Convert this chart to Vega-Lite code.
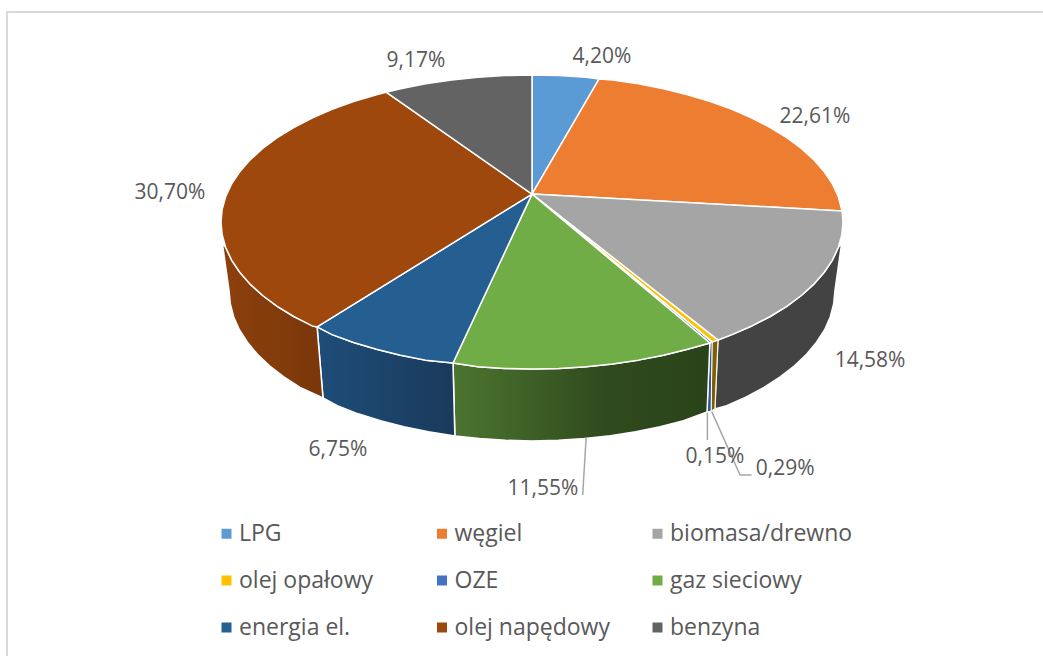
{"$schema":"https://vega.github.io/schema/vega-lite/v6.json","width":1043,"height":656,"padding":0,"autosize":{"type":"none"},"background":"white","view":{"stroke":null},
"config":{"font":"Open Sans"},
"datasets":{
"frame":[{"seq":0,"x":-1.688,"y":-2.952},{"seq":1,"x":-1.688,"y":1.429},{"seq":2,"x":1.643,"y":1.429}],
"leaders":[{"part":"a","seq":0,"x":0.174,"y":-1.469},{"part":"a","seq":1,"x":0.163,"y":-1.857},{"part":"b","seq":0,"x":0.564,"y":-1.299},{"part":"b","seq":1,"x":0.564,"y":-1.483},{"part":"c","seq":0,"x":0.578,"y":-1.29},{"part":"c","seq":1,"x":0.669,"y":-1.721},{"part":"c","seq":2,"x":0.706,"y":-1.721}],
"labels":[{"t":"4,20%","x":0.225,"y":1.122},{"t":"22,61%","x":0.91,"y":0.714},{"t":"14,58%","x":1.087,"y":-0.946},{"t":"0,29%","x":0.814,"y":-1.68},{"t":"0,15%","x":0.588,"y":-1.599},{"t":"11,55%","x":0.035,"y":-1.817},{"t":"6,75%","x":-0.624,"y":-1.551},{"t":"30,70%","x":-1.164,"y":0.197},{"t":"9,17%","x":-0.373,"y":1.095}],
"walls":[
{"part":"biomasa/drewno","seq":0,"x":0.996,"y":-0.1392},{"part":"biomasa/drewno","seq":1,"x":0.9848,"y":-0.1736},{"part":"biomasa/drewno","seq":2,"x":0.9659,"y":-0.2588},{"part":"biomasa/drewno","seq":3,"x":0.9397,"y":-0.342},{"part":"biomasa/drewno","seq":4,"x":0.9063,"y":-0.4226},{"part":"biomasa/drewno","seq":5,"x":0.866,"y":-0.5},{"part":"biomasa/drewno","seq":6,"x":0.8192,"y":-0.5736},{"part":"biomasa/drewno","seq":7,"x":0.766,"y":-0.6428},{"part":"biomasa/drewno","seq":8,"x":0.7071,"y":-0.7071},{"part":"biomasa/drewno","seq":9,"x":0.6428,"y":-0.766},{"part":"biomasa/drewno","seq":10,"x":0.598,"y":-0.803},{"part":"biomasa/drewno","seq":11,"x":0.588,"y":-1.272},{"part":"biomasa/drewno","seq":12,"x":0.626,"y":-1.25},{"part":"biomasa/drewno","seq":13,"x":0.689,"y":-1.19},{"part":"biomasa/drewno","seq":14,"x":0.746,"y":-1.125},{"part":"biomasa/drewno","seq":15,"x":0.798,"y":-1.054},{"part":"biomasa/drewno","seq":16,"x":0.844,"y":-0.979},{"part":"biomasa/drewno","seq":17,"x":0.883,"y":-0.9},{"part":"biomasa/drewno","seq":18,"x":0.915,"y":-0.818},{"part":"biomasa/drewno","seq":19,"x":0.941,"y":-0.733},{"part":"biomasa/drewno","seq":20,"x":0.959,"y":-0.646},{"part":"biomasa/drewno","seq":21,"x":0.97,"y":-0.558},{"part":"biomasa/drewno","seq":22,"x":0.974,"y":-0.469},{"part":"biomasa/drewno","seq":23,"x":0.996,"y":-0.1392},
{"part":"olej opałowy","seq":0,"x":0.598,"y":-0.803},{"part":"olej opałowy","seq":1,"x":0.579,"y":-0.816},{"part":"olej opałowy","seq":2,"x":0.576,"y":-1.286},{"part":"olej opałowy","seq":3,"x":0.588,"y":-1.272},{"part":"olej opałowy","seq":4,"x":0.598,"y":-0.803},
{"part":"OZE","seq":0,"x":0.579,"y":-0.816},{"part":"OZE","seq":1,"x":0.572,"y":-0.823},{"part":"OZE","seq":2,"x":0.563,"y":-1.293},{"part":"OZE","seq":3,"x":0.576,"y":-1.286},{"part":"OZE","seq":4,"x":0.579,"y":-0.816},
{"part":"gaz sieciowy","seq":0,"x":0.572,"y":-0.823},{"part":"gaz sieciowy","seq":1,"x":0.5,"y":-0.866},{"part":"gaz sieciowy","seq":2,"x":0.4226,"y":-0.9063},{"part":"gaz sieciowy","seq":3,"x":0.342,"y":-0.9397},{"part":"gaz sieciowy","seq":4,"x":0.2588,"y":-0.9659},{"part":"gaz sieciowy","seq":5,"x":0.1736,"y":-0.9848},{"part":"gaz sieciowy","seq":6,"x":0.0872,"y":-0.9962},{"part":"gaz sieciowy","seq":7,"x":0,"y":-1},{"part":"gaz sieciowy","seq":8,"x":-0.0872,"y":-0.9962},{"part":"gaz sieciowy","seq":9,"x":-0.1736,"y":-0.9848},{"part":"gaz sieciowy","seq":10,"x":-0.254,"y":-0.959},{"part":"gaz sieciowy","seq":11,"x":-0.248,"y":-1.456},{"part":"gaz sieciowy","seq":12,"x":-0.169,"y":-1.473},{"part":"gaz sieciowy","seq":13,"x":-0.085,"y":-1.485},{"part":"gaz sieciowy","seq":14,"x":0,"y":-1.489},{"part":"gaz sieciowy","seq":15,"x":0.085,"y":-1.485},{"part":"gaz sieciowy","seq":16,"x":0.169,"y":-1.473},{"part":"gaz sieciowy","seq":17,"x":0.252,"y":-1.454},{"part":"gaz sieciowy","seq":18,"x":0.333,"y":-1.427},{"part":"gaz sieciowy","seq":19,"x":0.412,"y":-1.393},{"part":"gaz sieciowy","seq":20,"x":0.487,"y":-1.352},{"part":"gaz sieciowy","seq":21,"x":0.563,"y":-1.293},{"part":"gaz sieciowy","seq":22,"x":0.572,"y":-0.823},
{"part":"energia el.","seq":0,"x":-0.254,"y":-0.959},{"part":"energia el.","seq":1,"x":-0.342,"y":-0.9397},{"part":"energia el.","seq":2,"x":-0.4226,"y":-0.9063},{"part":"energia el.","seq":3,"x":-0.5,"y":-0.866},{"part":"energia el.","seq":4,"x":-0.5736,"y":-0.8192},{"part":"energia el.","seq":5,"x":-0.6428,"y":-0.766},{"part":"energia el.","seq":6,"x":-0.691,"y":-0.714},{"part":"energia el.","seq":7,"x":-0.672,"y":-1.197},{"part":"energia el.","seq":8,"x":-0.626,"y":-1.25},{"part":"energia el.","seq":9,"x":-0.559,"y":-1.305},{"part":"energia el.","seq":10,"x":-0.487,"y":-1.352},{"part":"energia el.","seq":11,"x":-0.412,"y":-1.393},{"part":"energia el.","seq":12,"x":-0.333,"y":-1.427},{"part":"energia el.","seq":13,"x":-0.248,"y":-1.456},{"part":"energia el.","seq":14,"x":-0.254,"y":-0.959},
{"part":"olej napędowy","seq":0,"x":-0.691,"y":-0.714},{"part":"olej napędowy","seq":1,"x":-0.766,"y":-0.6428},{"part":"olej napędowy","seq":2,"x":-0.8192,"y":-0.5736},{"part":"olej napędowy","seq":3,"x":-0.866,"y":-0.5},{"part":"olej napędowy","seq":4,"x":-0.9063,"y":-0.4226},{"part":"olej napędowy","seq":5,"x":-0.9397,"y":-0.342},{"part":"olej napędowy","seq":6,"x":-0.9659,"y":-0.2588},{"part":"olej napędowy","seq":7,"x":-0.9848,"y":-0.1736},{"part":"olej napędowy","seq":8,"x":-0.996,"y":-0.1392},{"part":"olej napędowy","seq":9,"x":-0.974,"y":-0.469},{"part":"olej napędowy","seq":10,"x":-0.97,"y":-0.558},{"part":"olej napędowy","seq":11,"x":-0.959,"y":-0.646},{"part":"olej napędowy","seq":12,"x":-0.941,"y":-0.733},{"part":"olej napędowy","seq":13,"x":-0.915,"y":-0.818},{"part":"olej napędowy","seq":14,"x":-0.883,"y":-0.9},{"part":"olej napędowy","seq":15,"x":-0.844,"y":-0.979},{"part":"olej napędowy","seq":16,"x":-0.798,"y":-1.054},{"part":"olej napędowy","seq":17,"x":-0.746,"y":-1.125},{"part":"olej napędowy","seq":18,"x":-0.672,"y":-1.197},{"part":"olej napędowy","seq":19,"x":-0.691,"y":-0.714}
],
"top":[
{"part":"LPG","seq":0,"x":0,"y":0.19},{"part":"LPG","seq":1,"x":0,"y":1},{"part":"LPG","seq":2,"x":0.0872,"y":0.9962},{"part":"LPG","seq":3,"x":0.1736,"y":0.9848},{"part":"LPG","seq":4,"x":0.2154,"y":0.972},{"part":"LPG","seq":5,"x":0,"y":0.19},
{"part":"węgiel","seq":0,"x":0,"y":0.19},{"part":"węgiel","seq":1,"x":0.2154,"y":0.972},{"part":"węgiel","seq":2,"x":0.2588,"y":0.9659},{"part":"węgiel","seq":3,"x":0.342,"y":0.9397},{"part":"węgiel","seq":4,"x":0.4226,"y":0.9063},{"part":"węgiel","seq":5,"x":0.5,"y":0.866},{"part":"węgiel","seq":6,"x":0.5736,"y":0.8192},{"part":"węgiel","seq":7,"x":0.6428,"y":0.766},{"part":"węgiel","seq":8,"x":0.7071,"y":0.7071},{"part":"węgiel","seq":9,"x":0.766,"y":0.6428},{"part":"węgiel","seq":10,"x":0.8192,"y":0.5736},{"part":"węgiel","seq":11,"x":0.866,"y":0.5},{"part":"węgiel","seq":12,"x":0.9063,"y":0.4226},{"part":"węgiel","seq":13,"x":0.9397,"y":0.342},{"part":"węgiel","seq":14,"x":0.9659,"y":0.2588},{"part":"węgiel","seq":15,"x":0.9848,"y":0.1736},{"part":"węgiel","seq":16,"x":0.997,"y":0.075},{"part":"węgiel","seq":17,"x":0,"y":0.19},
{"part":"biomasa/drewno","seq":0,"x":0,"y":0.19},{"part":"biomasa/drewno","seq":1,"x":0.997,"y":0.075},{"part":"biomasa/drewno","seq":2,"x":1,"y":0},{"part":"biomasa/drewno","seq":3,"x":0.9962,"y":-0.0872},{"part":"biomasa/drewno","seq":4,"x":0.9848,"y":-0.1736},{"part":"biomasa/drewno","seq":5,"x":0.9659,"y":-0.2588},{"part":"biomasa/drewno","seq":6,"x":0.9397,"y":-0.342},{"part":"biomasa/drewno","seq":7,"x":0.9063,"y":-0.4226},{"part":"biomasa/drewno","seq":8,"x":0.866,"y":-0.5},{"part":"biomasa/drewno","seq":9,"x":0.8192,"y":-0.5736},{"part":"biomasa/drewno","seq":10,"x":0.766,"y":-0.6428},{"part":"biomasa/drewno","seq":11,"x":0.7071,"y":-0.7071},{"part":"biomasa/drewno","seq":12,"x":0.6428,"y":-0.766},{"part":"biomasa/drewno","seq":13,"x":0.598,"y":-0.803},{"part":"biomasa/drewno","seq":14,"x":0,"y":0.19},
{"part":"olej opałowy","seq":0,"x":0,"y":0.19},{"part":"olej opałowy","seq":1,"x":0.598,"y":-0.803},{"part":"olej opałowy","seq":2,"x":0.579,"y":-0.816},{"part":"olej opałowy","seq":3,"x":0,"y":0.19},
{"part":"OZE","seq":0,"x":0,"y":0.19},{"part":"OZE","seq":1,"x":0.579,"y":-0.816},{"part":"OZE","seq":2,"x":0.572,"y":-0.823},{"part":"OZE","seq":3,"x":0,"y":0.19},
{"part":"gaz sieciowy","seq":0,"x":0,"y":0.19},{"part":"gaz sieciowy","seq":1,"x":0.572,"y":-0.823},{"part":"gaz sieciowy","seq":2,"x":0.5,"y":-0.866},{"part":"gaz sieciowy","seq":3,"x":0.4226,"y":-0.9063},{"part":"gaz sieciowy","seq":4,"x":0.342,"y":-0.9397},{"part":"gaz sieciowy","seq":5,"x":0.2588,"y":-0.9659},{"part":"gaz sieciowy","seq":6,"x":0.1736,"y":-0.9848},{"part":"gaz sieciowy","seq":7,"x":0.0872,"y":-0.9962},{"part":"gaz sieciowy","seq":8,"x":0,"y":-1},{"part":"gaz sieciowy","seq":9,"x":-0.0872,"y":-0.9962},{"part":"gaz sieciowy","seq":10,"x":-0.1736,"y":-0.9848},{"part":"gaz sieciowy","seq":11,"x":-0.254,"y":-0.959},{"part":"gaz sieciowy","seq":12,"x":0,"y":0.19},
{"part":"energia el.","seq":0,"x":0,"y":0.19},{"part":"energia el.","seq":1,"x":-0.254,"y":-0.959},{"part":"energia el.","seq":2,"x":-0.342,"y":-0.9397},{"part":"energia el.","seq":3,"x":-0.4226,"y":-0.9063},{"part":"energia el.","seq":4,"x":-0.5,"y":-0.866},{"part":"energia el.","seq":5,"x":-0.5736,"y":-0.8192},{"part":"energia el.","seq":6,"x":-0.6428,"y":-0.766},{"part":"energia el.","seq":7,"x":-0.691,"y":-0.714},{"part":"energia el.","seq":8,"x":0,"y":0.19},
{"part":"olej napędowy","seq":0,"x":0,"y":0.19},{"part":"olej napędowy","seq":1,"x":-0.691,"y":-0.714},{"part":"olej napędowy","seq":2,"x":-0.7071,"y":-0.7071},{"part":"olej napędowy","seq":3,"x":-0.766,"y":-0.6428},{"part":"olej napędowy","seq":4,"x":-0.8192,"y":-0.5736},{"part":"olej napędowy","seq":5,"x":-0.866,"y":-0.5},{"part":"olej napędowy","seq":6,"x":-0.9063,"y":-0.4226},{"part":"olej napędowy","seq":7,"x":-0.9397,"y":-0.342},{"part":"olej napędowy","seq":8,"x":-0.9659,"y":-0.2588},{"part":"olej napędowy","seq":9,"x":-0.9848,"y":-0.1736},{"part":"olej napędowy","seq":10,"x":-0.9962,"y":-0.0872},{"part":"olej napędowy","seq":11,"x":-1,"y":0},{"part":"olej napędowy","seq":12,"x":-0.9962,"y":0.0872},{"part":"olej napędowy","seq":13,"x":-0.9848,"y":0.1736},{"part":"olej napędowy","seq":14,"x":-0.9659,"y":0.2588},{"part":"olej napędowy","seq":15,"x":-0.9397,"y":0.342},{"part":"olej napędowy","seq":16,"x":-0.9063,"y":0.4226},{"part":"olej napędowy","seq":17,"x":-0.866,"y":0.5},{"part":"olej napędowy","seq":18,"x":-0.8192,"y":0.5736},{"part":"olej napędowy","seq":19,"x":-0.766,"y":0.6428},{"part":"olej napędowy","seq":20,"x":-0.7071,"y":0.7071},{"part":"olej napędowy","seq":21,"x":-0.6428,"y":0.766},{"part":"olej napędowy","seq":22,"x":-0.5736,"y":0.8192},{"part":"olej napędowy","seq":23,"x":-0.5,"y":0.866},{"part":"olej napędowy","seq":24,"x":-0.469,"y":0.883},{"part":"olej napędowy","seq":25,"x":0,"y":0.19},
{"part":"benzyna","seq":0,"x":0,"y":0.19},{"part":"benzyna","seq":1,"x":-0.469,"y":0.883},{"part":"benzyna","seq":2,"x":-0.4226,"y":0.9063},{"part":"benzyna","seq":3,"x":-0.342,"y":0.9397},{"part":"benzyna","seq":4,"x":-0.2588,"y":0.9659},{"part":"benzyna","seq":5,"x":-0.1736,"y":0.9848},{"part":"benzyna","seq":6,"x":-0.0872,"y":0.9962},{"part":"benzyna","seq":7,"x":0,"y":1},{"part":"benzyna","seq":8,"x":0,"y":0.19}
]
},
"encoding":{
"x":{"field":"x","type":"quantitative","axis":null,"scale":{"domain":[-1.7106,1.6431],"nice":false,"zero":false}},
"y":{"field":"y","type":"quantitative","axis":null,"scale":{"domain":[-2.9524,1.5102],"nice":false,"zero":false}}
},
"layer":[
{"data":{"name":"frame"},"mark":{"type":"line","stroke":"#d9d9d9","strokeWidth":2},"encoding":{"order":{"field":"seq"}}},
{"data":{"name":"walls"},"transform":[{"filter":"datum.part==='biomasa/drewno'"}],"mark":{"type":"line","fill":"#434343","stroke":"white","strokeWidth":1.5},"encoding":{"order":{"field":"seq"}}},
{"data":{"name":"walls"},"transform":[{"filter":"datum.part==='olej opałowy'"}],"mark":{"type":"line","fill":"#7f5f00","stroke":"white","strokeWidth":1},"encoding":{"order":{"field":"seq"}}},
{"data":{"name":"walls"},"transform":[{"filter":"datum.part==='OZE'"}],"mark":{"type":"line","fill":"#2f5597","stroke":"white","strokeWidth":1},"encoding":{"order":{"field":"seq"}}},
{"data":{"name":"walls"},"transform":[{"filter":"datum.part==='gaz sieciowy'"}],"mark":{"type":"line","stroke":"white","strokeWidth":1.5,"fill":{"gradient":"linear","x1":0,"x2":1,"y1":0,"y2":0,"stops":[{"offset":0,"color":"#4c7530"},{"offset":0.6,"color":"#2f4a1d"},{"offset":1,"color":"#2b431a"}]}},"encoding":{"order":{"field":"seq"}}},
{"data":{"name":"walls"},"transform":[{"filter":"datum.part==='energia el.'"}],"mark":{"type":"line","stroke":"white","strokeWidth":1.5,"fill":{"gradient":"linear","x1":0,"x2":1,"y1":0,"y2":0,"stops":[{"offset":0,"color":"#1e4d78"},{"offset":1,"color":"#1a3a5c"}]}},"encoding":{"order":{"field":"seq"}}},
{"data":{"name":"walls"},"transform":[{"filter":"datum.part==='olej napędowy'"}],"mark":{"type":"line","stroke":"white","strokeWidth":1.5,"fill":{"gradient":"linear","x1":0,"x2":1,"y1":0,"y2":0,"stops":[{"offset":0,"color":"#8c400d"},{"offset":1,"color":"#7a370a"}]}},"encoding":{"order":{"field":"seq"}}},
{"data":{"name":"top"},"mark":{"type":"line","stroke":"white","strokeWidth":1.5,"strokeJoin":"round"},"encoding":{"order":{"field":"seq"},"fill":{"field":"part","type":"nominal","scale":{"domain":["LPG","węgiel","biomasa/drewno","olej opałowy","OZE","gaz sieciowy","energia el.","olej napędowy","benzyna"],"range":["#5b9bd5","#ed7d31","#a5a5a5","#ffc000","#4472c4","#70ad47","#255e91","#9e480e","#636363"]},"legend":{"title":null,"orient":"none","legendX":215,"legendY":522,"direction":"horizontal","columns":3,"gridAlign":"all","symbolType":"square","symbolSize":100,"symbolStrokeWidth":0,"labelFont":"Open Sans","labelFontSize":23,"labelColor":"#595959","labelLimit":300,"labelOffset":1,"rowPadding":23,"columnPadding":8.5}}}},
{"data":{"name":"leaders"},"mark":{"type":"line","stroke":"#a6a6a6","strokeWidth":1.5},"encoding":{"detail":{"field":"part"},"order":{"field":"seq"}}},
{"data":{"name":"labels"},"mark":{"type":"text","font":"Open Sans","fontSize":21,"color":"#595959","align":"center","baseline":"middle"},"encoding":{"text":{"field":"t"}}}
]}
